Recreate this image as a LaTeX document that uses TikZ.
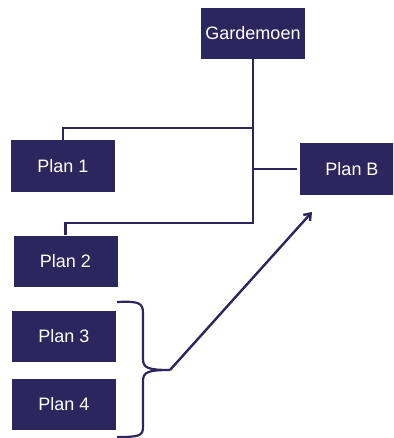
\documentclass[tikz,border=0pt]{standalone}
\usepackage{fontspec}
\setmainfont{Liberation Sans}
\usepackage{tikz}
\usetikzlibrary{arrows.meta,positioning,calc}
\definecolor{navy}{RGB}{44,38,94}

\begin{document}
\begin{tikzpicture}[x=1pt,y=-1pt,>={Straight Barb[length=6pt,width=9pt]},
  box/.style={rectangle,fill=navy,text=white,minimum width=104pt,minimum height=51pt,inner sep=0pt,font=\fontsize{18}{20}\selectfont},
  ln/.style={draw=navy,line width=2.4pt}]
  \clip (0,0) rectangle (393,438);
  \node[box](garde) at (253,33.5){Gardemoen};
  \node[box](plan1) at (63,166){Plan 1};
  \node[box](plan2) at (65.5,261){Plan 2};
  \node[box](plan3) at (64,336){Plan 3};
  \node[box](plan4) at (64,404){Plan 4};
  \node[box](planb) at (352,169){Plan B};
  % tree lines
  \coordinate(j1) at (garde.south |- 0,128);
  \coordinate(j2) at (garde.south |- 0,223);
  \draw[ln] ([yshift=1pt]garde.south)--(j2) -| (plan2.north);
  \draw[ln] (j1) -| (plan1.north);
  \draw[ln] (garde.south |- planb.west)--([xshift=-3pt]planb.west);
  % brace round plan 3 and 4
  \coordinate(tip) at (170,370);
  \draw[ln,line width=2.2pt] (117,302) .. controls (139,301) and (143,303) .. (143,313)
    -- (143,359) .. controls (143,368) and (148,370) .. (tip)
    .. controls (148,370) and (143,372) .. (143,381)
    -- (143,427) .. controls (143,436) and (139,437) .. (117,437);
  % arrow to plan B
  \coordinate(ahead) at (312,212);
  \draw[ln,->] (tip)--(ahead);
\end{tikzpicture}
\end{document}
